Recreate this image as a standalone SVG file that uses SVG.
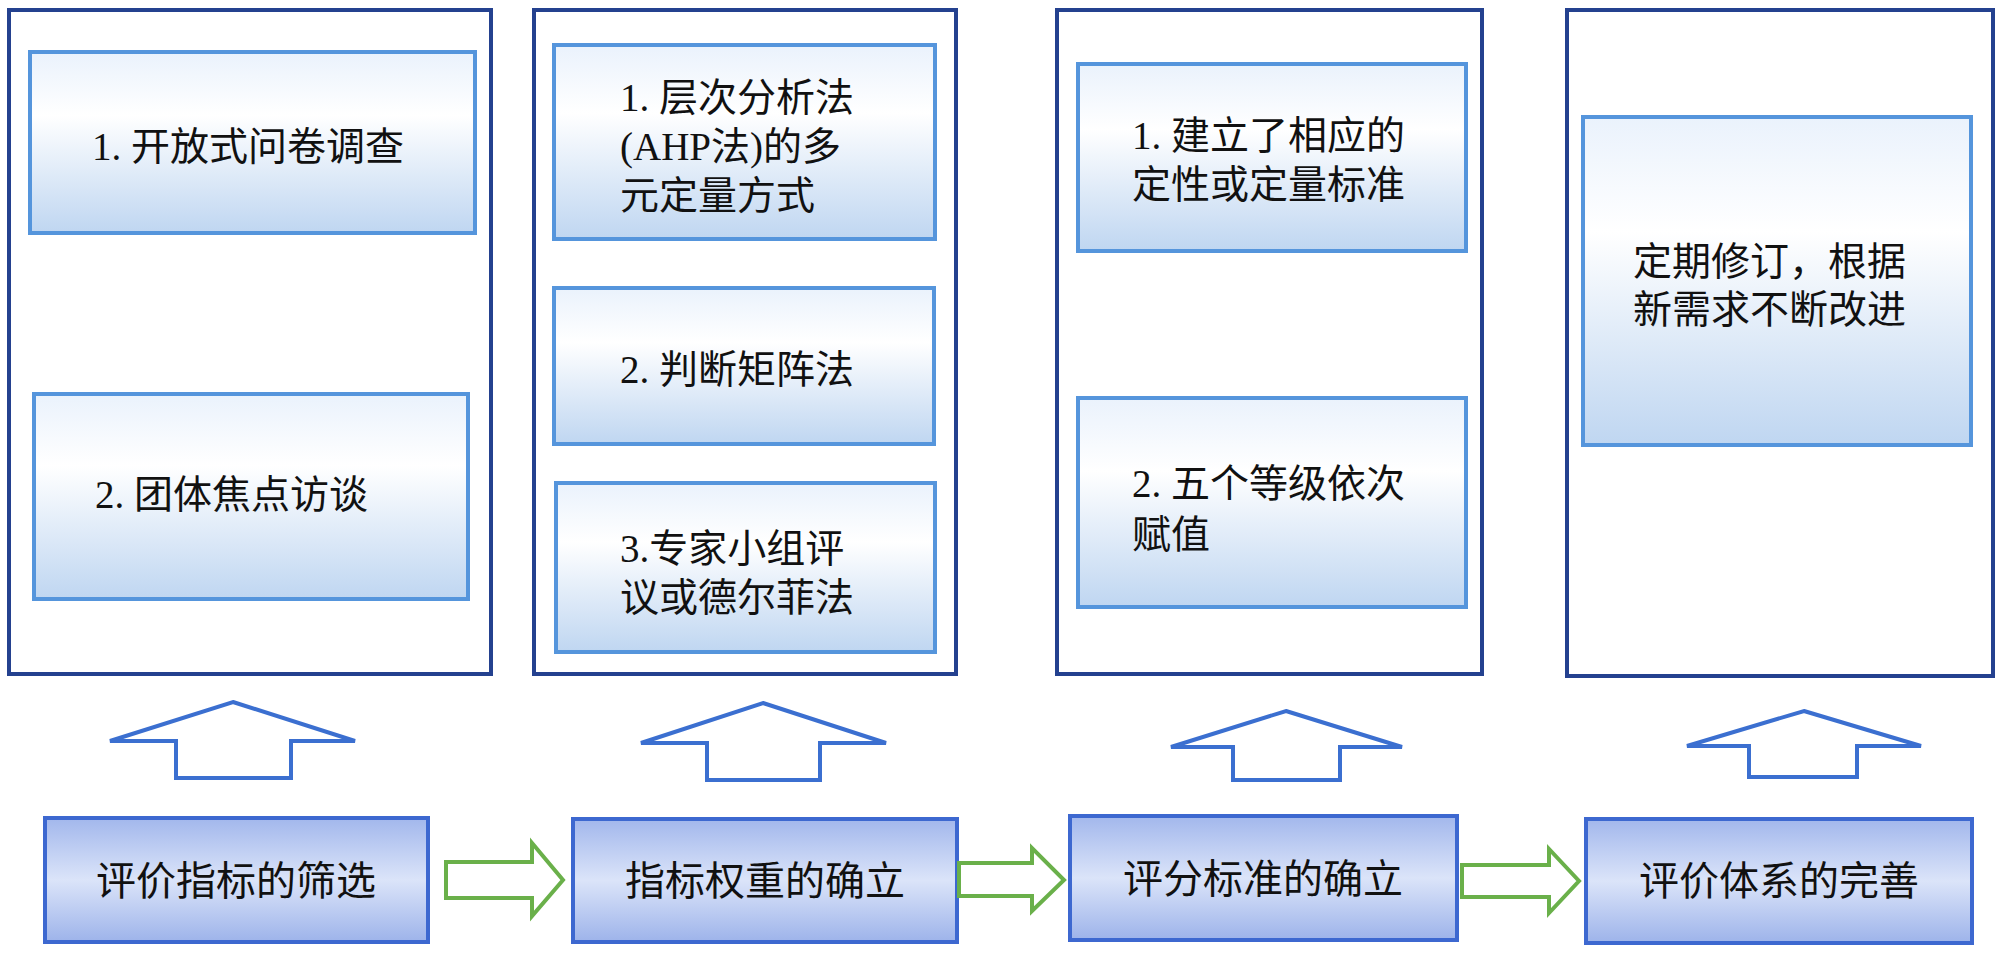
<svg xmlns="http://www.w3.org/2000/svg" width="2000" height="955" viewBox="0 0 2000 955">
<style>
.outer{fill:#ffffff;stroke:#24418f;stroke-width:4}
.inner{fill:url(#gIn);stroke:#5595dc;stroke-width:4}
.step{fill:url(#gStep);stroke:#3d68d0;stroke-width:4}
.up{fill:#ffffff;stroke:#3b6fd0;stroke-width:4;stroke-linejoin:miter}
.flow{fill:#ffffff;stroke:#6ab04a;stroke-width:4}
.t{font-family:"Liberation Serif","Noto Sans CJK SC",serif;font-size:39px;fill:#111111}
.s{font-family:"Noto Sans CJK SC","Liberation Sans",sans-serif;font-size:40px;fill:#111111;text-anchor:middle}
</style>
<defs>
<linearGradient id="gIn" x1="0" y1="0" x2="0" y2="1">
<stop offset="0" stop-color="#eaf2fc"/>
<stop offset="0.35" stop-color="#ffffff"/>
<stop offset="1" stop-color="#bfd6f1"/>
</linearGradient>
<linearGradient id="gStep" x1="0" y1="0" x2="0" y2="1">
<stop offset="0" stop-color="#a2b7ec"/>
<stop offset="0.5" stop-color="#dbe4f9"/>
<stop offset="1" stop-color="#9db3ea"/>
</linearGradient>
</defs>
<rect width="2000" height="955" fill="#ffffff"/>

<g id="col1">
<rect class="outer" x="9" y="10" width="482" height="664"/>
<g id="col1-item1"><rect class="inner" x="30" y="52" width="445" height="181"/>
<text class="t" x="92" y="160">1. 开放式问卷调查</text></g>
<g id="col1-item2"><rect class="inner" x="34" y="394" width="434" height="205"/>
<text class="t" x="95" y="508">2. 团体焦点访谈</text></g>
</g>

<g id="col2">
<rect class="outer" x="534" y="10" width="422" height="664"/>
<g id="col2-item1"><rect class="inner" x="554" y="45" width="381" height="194"/>
<text class="t" x="620" y="111">1. 层次分析法</text>
<text class="t" x="620" y="160">(AHP法)的多</text>
<text class="t" x="620" y="209">元定量方式</text></g>
<g id="col2-item2"><rect class="inner" x="554" y="288" width="380" height="156"/>
<text class="t" x="620" y="383">2. 判断矩阵法</text></g>
<g id="col2-item3"><rect class="inner" x="556" y="483" width="379" height="169"/>
<text class="t" x="620" y="562">3.专家小组评</text>
<text class="t" x="620" y="611">议或德尔菲法</text></g>
</g>

<g id="col3">
<rect class="outer" x="1057" y="10" width="425" height="664"/>
<g id="col3-item1"><rect class="inner" x="1078" y="64" width="388" height="187"/>
<text class="t" x="1132" y="149">1. 建立了相应的</text>
<text class="t" x="1132" y="198">定性或定量标准</text></g>
<g id="col3-item2"><rect class="inner" x="1078" y="398" width="388" height="209"/>
<text class="t" x="1132" y="497">2. 五个等级依次</text>
<text class="t" x="1132" y="548">赋值</text></g>
</g>

<g id="col4">
<rect class="outer" x="1567" y="10" width="426" height="666"/>
<g id="col4-item1"><rect class="inner" x="1583" y="117" width="388" height="328"/>
<text class="t" x="1633" y="275">定期修订，根据</text>
<text class="t" x="1633" y="323">新需求不断改进</text></g>
</g>

<g id="step1"><rect class="step" x="45" y="818" width="383" height="124"/>
<text class="s" x="236" y="895">评价指标的筛选</text></g>
<g id="step2"><rect class="step" x="573" y="819" width="384" height="123"/>
<text class="s" x="765" y="895">指标权重的确立</text></g>
<g id="step3"><rect class="step" x="1070" y="816" width="387" height="124"/>
<text class="s" x="1263" y="893">评分标准的确立</text></g>
<g id="step4"><rect class="step" x="1586" y="819" width="386" height="124"/>
<text class="s" x="1779" y="895">评价体系的完善</text></g>

<g id="connectors">
<polygon class="up" points="233,702 355,741 291,741 291,778 176,778 176,741 110,741"/>
<polygon class="up" points="763,703 886,743 820,743 820,780 707,780 707,743 641,743"/>
<polygon class="up" points="1286,711 1402,747 1340,747 1340,780 1233,780 1233,747 1171,747"/>
<polygon class="up" points="1804,711 1921,746 1857,746 1857,777 1749,777 1749,746 1687,746"/>
<polygon class="flow" points="446,862 532,862 532,843 563,880 532,916 532,898 446,898"/>
<polygon class="flow" points="959,863 1032,863 1032,848 1064,880 1032,911 1032,896 959,896"/>
<polygon class="flow" points="1462,865 1549,865 1549,849 1579,881 1549,913 1549,897 1462,897"/>
</g>
</svg>
